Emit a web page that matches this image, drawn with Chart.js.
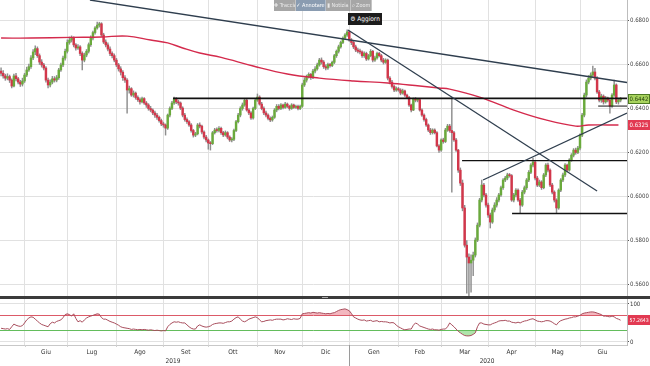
<!DOCTYPE html>
<html>
<head>
<meta charset="utf-8">
<script src="https://cdn.jsdelivr.net/npm/chart.js@4/dist/chart.umd.min.js"></script>
<style>
body{margin:0;background:#fff;width:650px;height:366px;overflow:hidden;position:relative;font-family:'Liberation Sans Narrow','DejaVu Sans Condensed','Liberation Sans',sans-serif}
canvas{position:absolute;left:0}
#graficoPrezzo{top:0}
#graficoRsi{top:299px}
#separatore{position:absolute;left:0;top:296px;width:650px;height:3px;background:#3b3b3b}
#maniglia{position:absolute;left:322px;top:297px;width:6px;height:1px;background:#aaa}
#barra{position:absolute;left:274px;top:0;width:98px;height:11px;background:rgba(150,150,150,.85);display:flex;font-size:5.5px;color:#e9e9e9;line-height:11px}
#barra span{text-align:center;border-right:1px solid rgba(255,255,255,.35);white-space:nowrap;overflow:hidden}
#barra span.attivo{background:rgba(120,150,185,.6);color:#fff}
#aggiorna{position:absolute;left:348px;top:13px;width:34px;height:12px;background:#1c1c1c;color:#fff;font-size:6.5px;line-height:12px;text-align:center;white-space:nowrap}
</style>
</head>
<body>
<canvas id="graficoPrezzo" width="650" height="296"></canvas>
<div id="separatore"></div>
<div id="maniglia"></div>
<canvas id="graficoRsi" width="650" height="67"></canvas>
<div id="barra"><span style="width:22px">✚ Traccia</span><span class="attivo" style="width:30px">✓ Annotare</span><span style="width:25px">▮ Notizia</span><span style="width:21px">⌕ Zoom</span></div>
<div id="aggiorna">⚙ Aggiorn</div>
<script>
// NZD/USD giornaliero, mag 2019 - giu 2020
const aperturaIniziale=0.6570

const chiusure=[
.6560,.6548,.6538,.6545,.6529,.6502,.6548,.6535,.6520,.6511,
.6525,.6552,.6575,.6590,.6630,.6657,.6672,.6640,.6611,.6598,
.6584,.6529,.6507,.6520,.6535,.6529,.6540,.6575,.6598,.6629,
.6660,.6700,.6711,.6720,.6689,.6675,.6680,.6650,.6620,.6643,
.6660,.6690,.6720,.6745,.6766,.6779,.6785,.6734,.6702,.6689,
.6670,.6650,.6640,.6620,.6598,.6580,.6565,.6540,.6529,.6484,
.6490,.6461,.6470,.6450,.6440,.6430,.6445,.6425,.6416,.6400,
.6393,.6380,.6370,.6360,.6345,.6330,.6325,.6311,.6370,.6400,
.6425,.6443,.6430,.6425,.6402,.6370,.6350,.6340,.6325,.6300,
.6279,.6285,.6325,.6320,.6293,.6270,.6257,.6243,.6240,.6290,
.6302,.6300,.6310,.6290,.6280,.6290,.6270,.6257,.6260,.6300,
.6340,.6370,.6400,.6416,.6438,.6393,.6380,.6357,.6400,.6438,
.6452,.6420,.6400,.6380,.6370,.6355,.6348,.6360,.6393,.6410,
.6400,.6416,.6405,.6420,.6410,.6400,.6416,.6405,.6410,.6400,
.6410,.6507,.6529,.6545,.6555,.6540,.6570,.6580,.6598,.6620,
.6611,.6590,.6584,.6600,.6595,.6610,.6640,.6660,.6680,.6700,
.6720,.6734,.6748,.6711,.6700,.6680,.6666,.6660,.6657,.6640,
.6650,.6625,.6640,.6660,.6620,.6630,.6650,.6640,.6620,.6610,
.6620,.6538,.6520,.6500,.6484,.6490,.6484,.6470,.6480,.6461,
.6450,.6416,.6393,.6443,.6438,.6440,.6393,.6370,.6350,.6325,
.6302,.6290,.6302,.6290,.6230,.6211,.6257,.6250,.6302,.6320,
.6300,.6290,.6257,.6211,.6120,.6061,.5948,.5779,.5725,.5698,
.5711,.5734,.5802,.5870,.5984,.6052,.6007,.5961,.5916,.5884,
.5939,.5961,.5984,.6007,.6040,.6075,.6084,.6098,.6095,.5984,
.6007,.6029,.5984,.5961,.6020,.6040,.6075,.6110,.6143,.6157,
.6084,.6052,.6066,.6040,.6098,.6143,.6120,.6052,.6020,.5984,
.5948,.6029,.6075,.6098,.6143,.6120,.6166,.6188,.6211,.6200,
.6220,.6279,.6370,.6461,.6520,.6538,.6552,.6566,.6538,.6475,
.6438,.6456,.6430,.6447,.6438,.6411,.6461,.6507,.6430,.6438,
.6442]

const massimi=[
.6585,.6572,.6556,.6558,.6552,.6535,.6556,.6560,.6542,.6528,
.6538,.6560,.6588,.6602,.6640,.6668,.6685,.6680,.6648,.6622,
.6605,.6590,.6538,.6530,.6546,.6545,.6550,.6582,.6606,.6638,
.6670,.6712,.6725,.6730,.6726,.6695,.6690,.6686,.6658,.6652,
.6668,.6698,.6730,.6752,.6772,.6793,.6792,.6790,.6742,.6712,
.6698,.6680,.6658,.6648,.6628,.6605,.6590,.6572,.6550,.6536,
.6502,.6495,.6480,.6475,.6458,.6448,.6452,.6450,.6432,.6422,
.6410,.6398,.6388,.6378,.6365,.6352,.6338,.6330,.6375,.6408,
.6432,.6452,.6450,.6438,.6430,.6408,.6378,.6358,.6345,.6332,
.6305,.6292,.6332,.6335,.6325,.6298,.6278,.6262,.6250,.6296,
.6310,.6312,.6318,.6315,.6296,.6298,.6295,.6276,.6268,.6306,
.6346,.6378,.6408,.6425,.6445,.6442,.6400,.6386,.6406,.6445,
.6466,.6458,.6428,.6408,.6388,.6376,.6362,.6366,.6400,.6418,
.6418,.6422,.6420,.6428,.6425,.6415,.6422,.6420,.6416,.6415,
.6416,.6515,.6540,.6552,.6562,.6560,.6578,.6590,.6606,.6628,
.6630,.6618,.6598,.6606,.6605,.6616,.6646,.6666,.6688,.6706,
.6726,.6740,.6757,.6752,.6718,.6706,.6688,.6675,.6670,.6662,
.6658,.6656,.6646,.6668,.6664,.6638,.6656,.6655,.6646,.6628,
.6626,.6624,.6545,.6528,.6506,.6498,.6496,.6490,.6488,.6484,
.6466,.6455,.6420,.6448,.6450,.6446,.6445,.6398,.6376,.6356,
.6330,.6310,.6308,.6308,.6295,.6236,.6262,.6265,.6310,.6328,
.6328,.6452,.6296,.6265,.6215,.6130,.6075,.5960,.5800,.5740,
.5735,.5748,.5812,.5880,.5992,.6075,.6060,.6015,.5970,.5925,
.5948,.5972,.5995,.6015,.6048,.6082,.6092,.6106,.6105,.6100,
.6015,.6036,.6035,.5992,.6028,.6048,.6082,.6118,.6150,.6175,
.6165,.6092,.6075,.6072,.6105,.6150,.6152,.6126,.6060,.6026,
.5990,.6035,.6082,.6106,.6150,.6148,.6172,.6195,.6218,.6220,
.6228,.6285,.6378,.6470,.6530,.6550,.6562,.6593,.6582,.6545,
.6482,.6465,.6462,.6455,.6452,.6445,.6468,.6529,.6512,.6445,
.6450]

const minimi=[
.6548,.6538,.6528,.6530,.6518,.6493,.6498,.6525,.6512,.6500,
.6502,.6518,.6545,.6568,.6582,.6622,.6645,.6632,.6600,.6588,
.6575,.6520,.6493,.6498,.6512,.6520,.6521,.6532,.6568,.6590,
.6620,.6652,.6692,.6702,.6680,.6665,.6668,.6640,.6575,.6612,
.6635,.6652,.6682,.6712,.6738,.6760,.6770,.6728,.6695,.6680,
.6662,.6640,.6630,.6612,.6590,.6570,.6552,.6528,.6518,.6379,
.6470,.6455,.6452,.6442,.6432,.6420,.6425,.6418,.6405,.6392,
.6385,.6372,.6360,.6350,.6338,.6322,.6315,.6279,.6305,.6362,
.6395,.6418,.6422,.6415,.6395,.6362,.6342,.6332,.6318,.6292,
.6270,.6272,.6280,.6312,.6285,.6262,.6248,.6215,.6211,.6236,
.6284,.6292,.6294,.6282,.6272,.6274,.6262,.6250,.6248,.6254,
.6295,.6334,.6362,.6392,.6410,.6388,.6372,.6350,.6352,.6395,
.6432,.6415,.6394,.6372,.6362,.6348,.6340,.6342,.6355,.6385,
.6394,.6395,.6398,.6400,.6404,.6392,.6396,.6400,.6400,.6394,
.6395,.6405,.6500,.6520,.6538,.6532,.6535,.6562,.6574,.6592,
.6602,.6582,.6575,.6578,.6588,.6590,.6604,.6632,.6652,.6674,
.6694,.6714,.6728,.6705,.6690,.6672,.6658,.6652,.6648,.6632,
.6632,.6618,.6620,.6635,.6612,.6614,.6624,.6634,.6612,.6602,
.6605,.6530,.6512,.6492,.6476,.6478,.6478,.6462,.6465,.6455,
.6445,.6410,.6385,.6390,.6430,.6430,.6388,.6364,.6342,.6318,
.6295,.6282,.6284,.6284,.6225,.6200,.6205,.6242,.6245,.6296,
.6292,.6020,.6250,.6205,.6110,.6050,.5935,.5770,.5561,.5543,
.5565,.5640,.5725,.5795,.5862,.5975,.5998,.5952,.5905,.5857,
.5878,.5930,.5952,.5975,.6000,.6032,.6068,.6076,.6088,.5978,
.5975,.5998,.5978,.5923,.5955,.6012,.6032,.6068,.6104,.6135,
.6075,.6045,.6045,.6032,.6035,.6090,.6112,.6045,.6012,.5975,
.5925,.5942,.6022,.6068,.6090,.6112,.6115,.6160,.6180,.6192,
.6195,.6212,.6272,.6362,.6452,.6512,.6530,.6545,.6530,.6468,
.6430,.6428,.6420,.6424,.6430,.6379,.6405,.6455,.6422,.6420,
.6430]

const rsi=[
36,35,34,35,33,40,47,44,42,41,
43,50,58,63,66,65,60,55,50,46,
44,42,40,48,52,50,54,56,58,64,
72,74,72,68,74,62,53,56,52,58,
63,66,68,70,72,74,73,64,60,60,
57,54,52,50,47,44,40,38,37,36,
35,33,34,33,32,33,32,33,32,31,
32,31,30,31,30,29,30,29,40,46,
50,53,52,53,51,50,50,45,40,36,
34,34,42,45,42,40,39,40,42,46,
48,49,50,50,49,51,53,53,55,60,
64,66,60,55,53,56,60,62,64,66,
64,58,53,54,56,57,58,57,59,60,
60,60,58,59,61,60,59,61,60,60,
62,74,75,76,77,76,78,77,76,77,
76,75,74,75,74,76,77,80,83,85,
86,87,85,82,75,66,63,60,58,57,
58,55,56,57,54,55,56,53,54,53,
53,52,50,51,50,44,40,37,34,32,
33,34,34,44,50,47,42,40,38,36,
34,33,34,32,32,31,33,34,34,40,
50,45,40,34,28,24,20,17,16,16,
17,20,24,40,50,50,47,46,45,45,
48,50,52,55,56,56,57,55,55,52,
51,50,52,50,53,55,56,58,60,61,
58,55,54,53,54,56,56,55,52,48,
45,52,56,58,60,61,63,64,66,66,
68,70,74,76,77,78,79,79,78,76,
74,72,68,68,67,66,68,66,62,60,
57.2643]

// media mobile 200 giorni
const mediaIdx=[0,14,33,47,59,70,78,85,93,103,118,134,149,165,181,196,205,210,224,240,255,269,275,289]
const mediaVal=[.6720,.6720,.6723,.6725,.6729,.6711,.6698,.6675,.6652,.6632,.6593,.6557,.6538,.6525,.6516,.6502,.6493,.6488,.6452,.6393,.6348,.6320,.6325,.6325]

// linee di tendenza e livelli
const trendLungoX=[41.6,293],trendLungoY=[.6893,.6518]
const trendDicX=[162.4,279],trendDicY=[.6757,.6025]
const trendRialzoX=[225.6,293],trendRialzoY=[.6075,.6379]
const livelli=[.6446,.6163,.5923,.6411]
const livelliDa=[80.5,215.8,239.2,279.5]

const tickPrezzo=[.56,.58,.60,.62,.64,.66,.68]
const tickRsi=[0,30,70,100]
const mesi=['Giu','Lug','Ago','Set','Ott','Nov','Dic','Gen','Feb','Mar','Apr','Mag','Giu']
const inizioMesi=[11,31,54,76,97,120,141,163,186,206,228,250,271]
const fineUltimoMese=292
const anni=['2019','2020']
const posAnni=[80.5,227.5]
const inizioAnno=163

const xMin=-0.5,xMax=293
const font="'Liberation Sans Narrow','DejaVu Sans Condensed','Liberation Sans',sans-serif"
Chart.defaults.font.family=font

let indici=chiusure.map((c,i)=>i)
let aperture=chiusure.map((c,i)=>i?chiusure[i-1]:aperturaIniziale)
let coloriCorpo=indici.map(i=>chiusure[i]>=aperture[i]?'#6aaa3c':'#d2374b')

let punti=(xs,ys)=>xs.map((x,k)=>({x:x,y:ys[k]}))

let posMesi=inizioMesi.map((v,k)=>(v+(k<inizioMesi.length-1?inizioMesi[k+1]:fineUltimoMese))/2)

// niente padding extra attorno all'area del grafico
let senzaPadding=s=>{s.paddingTop=0;s.paddingBottom=0;s.paddingLeft=0;s.paddingRight=0}

function linea(data,colore,spessore,ordine){
return{type:'line',data:data,borderColor:colore,borderWidth:spessore,pointRadius:0,fill:false,order:ordine}
}

function etichette(lista){
return{
id:'etichette',
afterDraw(chart){
let ctx=chart.ctx
let a=chart.chartArea
lista().forEach(e=>{
let py=Math.round(chart.scales.y.getPixelForValue(e.valore))
ctx.save()
ctx.fillStyle=e.sfondo
ctx.fillRect(a.right+1,py-5,chart.width-a.right-1,10)
if(e.bordo){
ctx.strokeStyle=e.bordo
ctx.strokeRect(a.right+1.5,py-4.5,chart.width-a.right-2,9)
}
ctx.fillStyle=e.testo
ctx.font=(e.corpo||6)+'px '+font
ctx.textBaseline='middle'
ctx.fillText(e.scritta,a.right+2.5,py+0.5)
ctx.restore()
})
}}
}

new Chart(document.getElementById('graficoPrezzo'),{
type:'bar',
data:{datasets:[
linea(punti(trendLungoX,trendLungoY),'#2f3e4e',1.3,1),
linea(punti(trendDicX,trendDicY),'#2f3e4e',1.3,1),
linea(punti(trendRialzoX,trendRialzoY),'#2f3e4e',1.3,1),
...livelli.map((v,k)=>linea([{x:livelliDa[k],y:v},{x:xMax,y:v}],'#111',k==0?1.8:(k==3?1:1.4),1)),
Object.assign(linea(punti(mediaIdx,mediaVal),'#d42a4c',1.4,2),{tension:0.4}),
{
label:'ombre',
data:indici.map(i=>({x:i,y:[minimi[i],massimi[i]]})),
backgroundColor:'#8e8e8e',
barThickness:0.8,
grouped:false,
order:4
},
{
label:'corpi',
data:indici.map(i=>({x:i,y:[aperture[i],chiusure[i]]})),
backgroundColor:coloriCorpo,
barThickness:1.8,
minBarLength:1,
grouped:false,
order:3
}
]},
options:{
responsive:false,
animation:false,
events:[],
layout:{padding:0},
plugins:{legend:{display:false},tooltip:{enabled:false}},
scales:{
x:{
type:'linear',min:xMin,max:xMax,offset:false,
afterBuildTicks:s=>{s.ticks=inizioMesi.map(v=>({value:v}))},
afterFit:s=>{s.height=0;senzaPadding(s)},
ticks:{display:false},
grid:{color:'#e1e1e1',drawTicks:false,offset:false},
border:{display:false}
},
y:{
position:'right',min:.5548,max:.6893,
afterBuildTicks:s=>{s.ticks=tickPrezzo.map(v=>({value:v}))},
afterFit:s=>{s.width=23;senzaPadding(s)},
ticks:{callback:v=>v.toFixed(4),font:{size:6},color:'#444',padding:1},
grid:{color:'#e1e1e1',tickLength:2,tickColor:'#555'},
border:{color:'#bdbdbd'}
}
}
},
plugins:[etichette(()=>[
{valore:mediaVal[mediaVal.length-1],scritta:mediaVal[mediaVal.length-1].toFixed(4),sfondo:'#e23a52',testo:'#fff'},
{valore:chiusure[chiusure.length-1],scritta:chiusure[chiusure.length-1].toFixed(4),sfondo:'#a8d35e',testo:'#1f3a0c',bordo:'#4d7a22'}
])]
})

// etichette mesi/anni sotto il pannello RSI, posizionate con la scala x
let asseTempo={
id:'asseTempo',
afterDraw(chart){
let ctx=chart.ctx
let sx=chart.scales.x
let fondo=chart.chartArea.bottom
ctx.save()
ctx.fillStyle='#333'
ctx.font='6.5px '+font
ctx.textAlign='center'
ctx.textBaseline='middle'
mesi.forEach((m,k)=>ctx.fillText(m,sx.getPixelForValue(posMesi[k]),fondo+7))
anni.forEach((a,k)=>ctx.fillText(a,sx.getPixelForValue(posAnni[k]),fondo+16))
ctx.strokeStyle='#d0d0d0'
inizioMesi.forEach(v=>{
let px=Math.round(sx.getPixelForValue(v))+0.5
ctx.beginPath()
ctx.moveTo(px,fondo)
ctx.lineTo(px,fondo+2)
ctx.stroke()
})
let pa=Math.round(sx.getPixelForValue(inizioAnno))+0.5
ctx.strokeStyle='#9a9a9a'
ctx.beginPath()
ctx.moveTo(pa,fondo)
ctx.lineTo(pa,chart.height)
ctx.stroke()
ctx.restore()
}}

new Chart(document.getElementById('graficoRsi'),{
type:'line',
data:{datasets:[
{
data:indici.map(i=>({x:i,y:rsi[i]})),
borderColor:'#a84d5c',borderWidth:1,pointRadius:0,
fill:{target:{value:70},above:'rgba(228,96,112,.45)',below:'rgba(0,0,0,0)'}
},
{
data:indici.map(i=>({x:i,y:rsi[i]})),
borderColor:'rgba(0,0,0,0)',borderWidth:0,pointRadius:0,
fill:{target:{value:30},above:'rgba(0,0,0,0)',below:'rgba(110,205,100,.55)'}
}
]},
options:{
responsive:false,
animation:false,
events:[],
layout:{padding:0},
plugins:{legend:{display:false},tooltip:{enabled:false}},
scales:{
x:{
type:'linear',min:xMin,max:xMax,
afterBuildTicks:s=>{s.ticks=inizioMesi.map(v=>({value:v}))},
afterFit:s=>{s.height=21;senzaPadding(s)},
ticks:{display:false},
grid:{color:'#e1e1e1',drawTicks:false},
border:{display:true,color:'#c8c8c8'}
},
y:{
position:'right',min:-8,max:113,
afterBuildTicks:s=>{s.ticks=tickRsi.map(v=>({value:v}))},
afterFit:s=>{s.width=23;senzaPadding(s)},
ticks:{callback:v=>(v===0||v===100)?String(v):'',font:{size:6},color:'#333',padding:1},
grid:{
color:c=>c.tick&&c.tick.value===70?'#dc5a68':(c.tick&&c.tick.value===30?'#62bb5c':'#e1e1e1'),
tickColor:c=>c.tick&&(c.tick.value===0||c.tick.value===100)?'#555':'rgba(0,0,0,0)',
tickLength:2
},
border:{color:'#bdbdbd'}
}
}
},
plugins:[asseTempo,etichette(()=>[
{valore:rsi[rsi.length-1],scritta:rsi[rsi.length-1].toFixed(4),sfondo:'#e23a52',testo:'#fff',corpo:5.2}
])]
})
</script>
</body>
</html>
